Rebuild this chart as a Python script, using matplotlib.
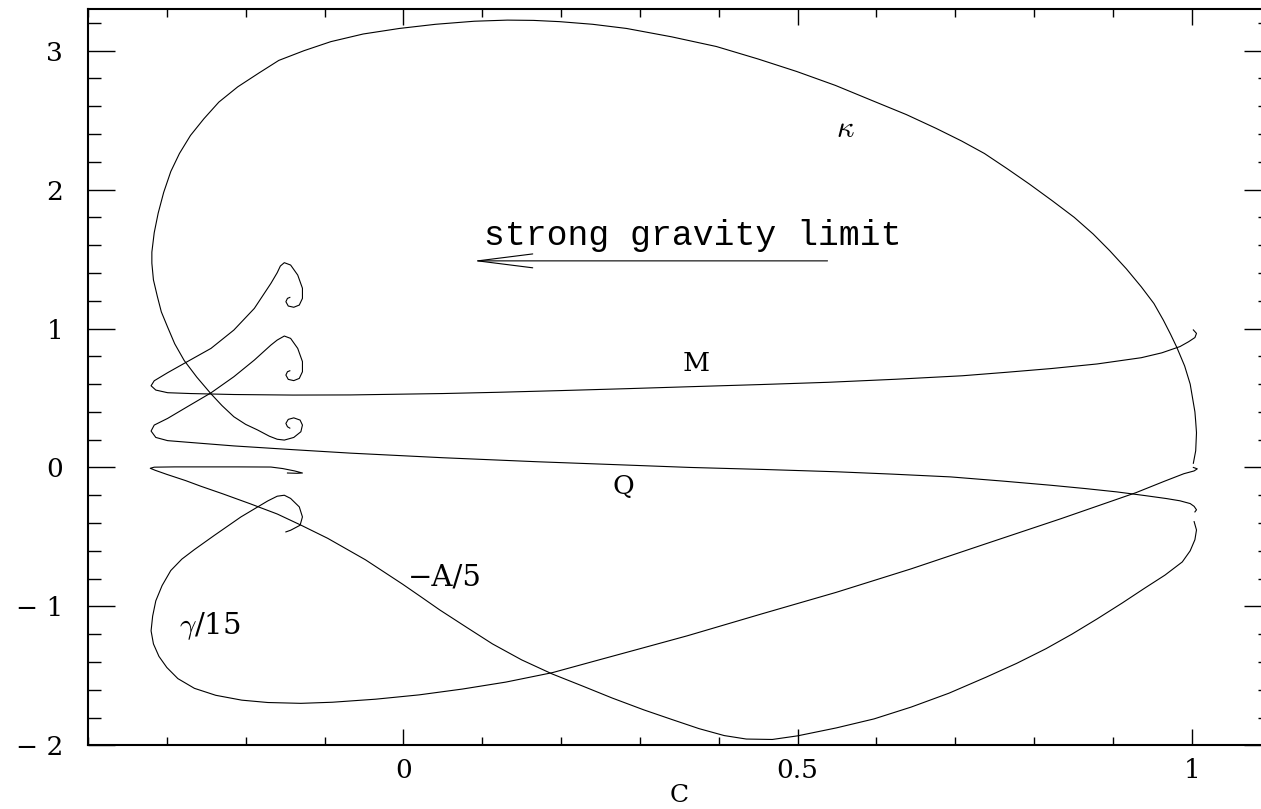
import numpy as np
import matplotlib
matplotlib.use('Agg')
from matplotlib import pyplot as plt
from matplotlib.ticker import FixedLocator, FixedFormatter, MultipleLocator

# curves traced along the solution branch, C on x
kappa_c = [1.002, 1.005, 1.006, 1.005, 1.004, 1.001, 0.998, 0.991, 0.981, 0.973,
           0.964, 0.952, 0.936, 0.917, 0.896, 0.875, 0.851, 0.823, 0.794, 0.766,
           0.737, 0.708, 0.676, 0.638, 0.595, 0.548, 0.499, 0.450, 0.397, 0.340,
           0.283, 0.240, 0.198, 0.165, 0.132, 0.090, 0.041, -0.005, -0.051, -0.092,
           -0.126, -0.158, -0.183, -0.210, -0.234, -0.253, -0.270, -0.284, -0.295,
           -0.304, -0.311, -0.316, -0.319, -0.319, -0.317, -0.312, -0.307, -0.299,
           -0.290, -0.278, -0.262, -0.244, -0.230, -0.215, -0.200, -0.185, -0.170,
           -0.160, -0.151, -0.139, -0.130, -0.128, -0.131, -0.139, -0.146, -0.149,
           -0.147, -0.144]
kappa_v = [0.03, 0.12, 0.25, 0.33, 0.40, 0.50, 0.60, 0.73, 0.865, 0.96,
           1.06, 1.18, 1.30, 1.43, 1.56, 1.68, 1.80, 1.92, 2.04, 2.15,
           2.26, 2.35, 2.44, 2.54, 2.64, 2.75, 2.85, 2.94, 3.03, 3.10,
           3.16, 3.19, 3.209, 3.218, 3.22, 3.212, 3.19, 3.16, 3.12, 3.065,
           3.00, 2.93, 2.84, 2.74, 2.63, 2.51, 2.39, 2.26, 2.13,
           1.98, 1.83, 1.69, 1.55, 1.47, 1.35, 1.23, 1.12, 1.01,
           0.89, 0.77, 0.65, 0.53, 0.445, 0.365, 0.31, 0.27, 0.225,
           0.203, 0.197, 0.216, 0.257, 0.305, 0.341, 0.357, 0.346, 0.317,
           0.293, 0.283]

m_c = [1.002, 1.006, 1.004, 0.996, 0.985, 0.962, 0.936, 0.880, 0.822, 0.765,
       0.709, 0.625, 0.539, 0.455, 0.368, 0.283, 0.198, 0.120, 0.050, -0.067,
       -0.140, -0.215, -0.270, -0.299, -0.314, -0.320, -0.316, -0.299, -0.278,
       -0.244, -0.215, -0.189, -0.168, -0.160, -0.156, -0.151, -0.143, -0.134,
       -0.128, -0.128, -0.132, -0.139, -0.146, -0.149, -0.147, -0.144]
m_v = [0.99, 0.965, 0.935, 0.905, 0.87, 0.825, 0.79, 0.745, 0.712, 0.685,
       0.66, 0.635, 0.613, 0.597, 0.582, 0.567, 0.553, 0.541, 0.532, 0.522,
       0.521, 0.525, 0.532, 0.538, 0.557, 0.588, 0.624, 0.682, 0.749,
       0.857, 0.989, 1.145, 1.325, 1.402, 1.450, 1.474, 1.457, 1.385,
       1.290, 1.217, 1.169, 1.153, 1.162, 1.193, 1.217, 1.224]

q_c = [1.004, 1.006, 1.003, 0.998, 0.985, 0.968, 0.940, 0.905, 0.865, 0.821,
       0.760, 0.694, 0.620, 0.549, 0.460, 0.364, 0.270, 0.170, 0.050, -0.067,
       -0.140, -0.215, -0.275, -0.299, -0.314, -0.320, -0.316, -0.299, -0.274,
       -0.244, -0.215, -0.189, -0.168, -0.160, -0.151, -0.143, -0.134, -0.128,
       -0.128, -0.132, -0.139, -0.146, -0.149, -0.147, -0.144]
q_v = [-0.32, -0.305, -0.28, -0.26, -0.24, -0.224, -0.202, -0.176, -0.152, -0.128,
       -0.098, -0.068, -0.048, -0.031, -0.015, 0.0, 0.02, 0.041, 0.07, 0.103,
       0.128, 0.155, 0.182, 0.193, 0.216, 0.262, 0.305, 0.353, 0.437,
       0.537, 0.653, 0.773, 0.881, 0.917, 0.946, 0.929, 0.857, 0.762,
       0.689, 0.641, 0.625, 0.634, 0.665, 0.689, 0.696]

a_c = [1.003, 1.006, 1.004, 0.998, 0.988, 0.966, 0.940, 0.912, 0.880, 0.848,
       0.815, 0.778, 0.739, 0.692, 0.644, 0.597, 0.549, 0.500, 0.468, 0.435,
       0.407, 0.375, 0.341, 0.305, 0.265, 0.228, 0.189, 0.150, 0.113, 0.080,
       0.046, 0.022, -0.001, -0.048, -0.096, -0.130, -0.160, -0.194,
       -0.229, -0.257, -0.276, -0.300, -0.315, -0.321, -0.316, -0.290, -0.257,
       -0.210, -0.168, -0.153, -0.138, -0.128, -0.135, -0.147]
a_v = [-0.39, -0.45, -0.52, -0.60, -0.68, -0.775, -0.87, -0.975, -1.09, -1.20,
       -1.305, -1.41, -1.51, -1.625, -1.725, -1.81, -1.875, -1.932, -1.958, -1.955,
       -1.930, -1.880, -1.815, -1.745, -1.660, -1.575, -1.487, -1.385, -1.270, -1.150,
       -1.025, -0.930, -0.840, -0.665, -0.510, -0.415, -0.335, -0.262,
       -0.190, -0.135, -0.095, -0.050, -0.020, -0.006, 0.002, 0.004, 0.004,
       0.004, 0.003, -0.008, -0.025, -0.040, -0.042, -0.040]

g_c = [1.002, 1.007, 1.003, 0.990, 0.965, 0.929, 0.834, 0.739, 0.644, 0.549,
       0.454, 0.360, 0.300, 0.245, 0.189, 0.130, 0.075, 0.020, -0.035, -0.090,
       -0.130, -0.172, -0.205, -0.238, -0.265, -0.286, -0.300, -0.310, -0.317,
       -0.320, -0.318, -0.314, -0.306, -0.295, -0.281, -0.265, -0.240, -0.206,
       -0.172, -0.160, -0.151, -0.143, -0.132, -0.128, -0.131, -0.143, -0.149]
g_v = [0.0, -0.01, -0.025, -0.045, -0.10, -0.182, -0.369, -0.549, -0.730, -0.899,
       -1.055, -1.212, -1.305, -1.39, -1.477, -1.545, -1.595, -1.637, -1.668, -1.69,
       -1.698, -1.692, -1.675, -1.640, -1.59, -1.52, -1.44, -1.36, -1.27,
       -1.176, -1.07, -0.96, -0.85, -0.742, -0.66, -0.591, -0.49, -0.356,
       -0.241, -0.207, -0.200, -0.223, -0.284, -0.356, -0.416, -0.452, -0.464]

xticks = [0, 0.5, 1]
xtick_labels = ['0', '0.5', '1']
yticks = [-2, -1, 0, 1, 2, 3]
ytick_labels = ['\u2212 2', '\u2212 1', '0', '1', '2', '3']

plt.rcParams['mathtext.fontset'] = 'cm'
plt.rcParams['font.family'] = ['DejaVu Serif']

fig = plt.figure(figsize=(12.61, 8.09), dpi=100)
ax = fig.add_axes([88 / 1261, 1 - 745.3 / 809, 1182.6 / 1261, 736.3 / 809])

for c, v in [(kappa_c, kappa_v), (m_c, m_v), (q_c, q_v), (a_c, a_v), (g_c, g_v)]:
    ax.plot(c, v, color='k', lw=0.8)

ax.set_xlim(-0.4, 1.1)
ax.set_ylim(-2, 3.3)

ax.xaxis.set_major_locator(FixedLocator(xticks))
ax.xaxis.set_major_formatter(FixedFormatter(xtick_labels))
ax.xaxis.set_minor_locator(MultipleLocator(0.1))
ax.yaxis.set_major_locator(FixedLocator(yticks))
ax.yaxis.set_major_formatter(FixedFormatter(ytick_labels))
ax.yaxis.set_minor_locator(MultipleLocator(0.2))

ax.tick_params(which='both', direction='in', top=True, right=True, width=1.0)
ax.tick_params(axis='x', which='major', length=11.5, pad=9, labelsize=19)
ax.tick_params(axis='x', which='minor', length=5.8)
ax.tick_params(axis='y', which='major', length=19.4, pad=18, labelsize=19)
ax.tick_params(axis='y', which='minor', length=9.4)
for s in ax.spines.values():
    s.set_linewidth(1.5)

ax.set_xlabel('C', fontsize=18, labelpad=1)

# curve labels
ax.text(0.561, 2.44, r'$\kappa$', fontsize=22, ha='center', va='center')
ax.text(0.371, 0.745, 'M', fontsize=19, ha='center', va='center')
ax.text(0.279, -0.14, 'Q', fontsize=19, ha='center', va='center')
ax.text(0.006, -0.79, '\u2212A/5', fontsize=21, ha='left', va='center')
ax.text(-0.285, -1.14, r'$\gamma$/15', fontsize=21, ha='left', va='center')

ax.text(0.102, 1.60, 'strong gravity limit', fontsize=25, family='Liberation Mono',
        ha='left', va='baseline')
ax.annotate('', xy=(0.0887, 1.487), xytext=(0.538, 1.487),
            arrowprops=dict(arrowstyle='->,head_length=3.96,head_width=0.5',
                            lw=0.8, color='k', mutation_scale=10,
                            shrinkA=0, shrinkB=0))

fig.savefig('out.png', dpi=100)
